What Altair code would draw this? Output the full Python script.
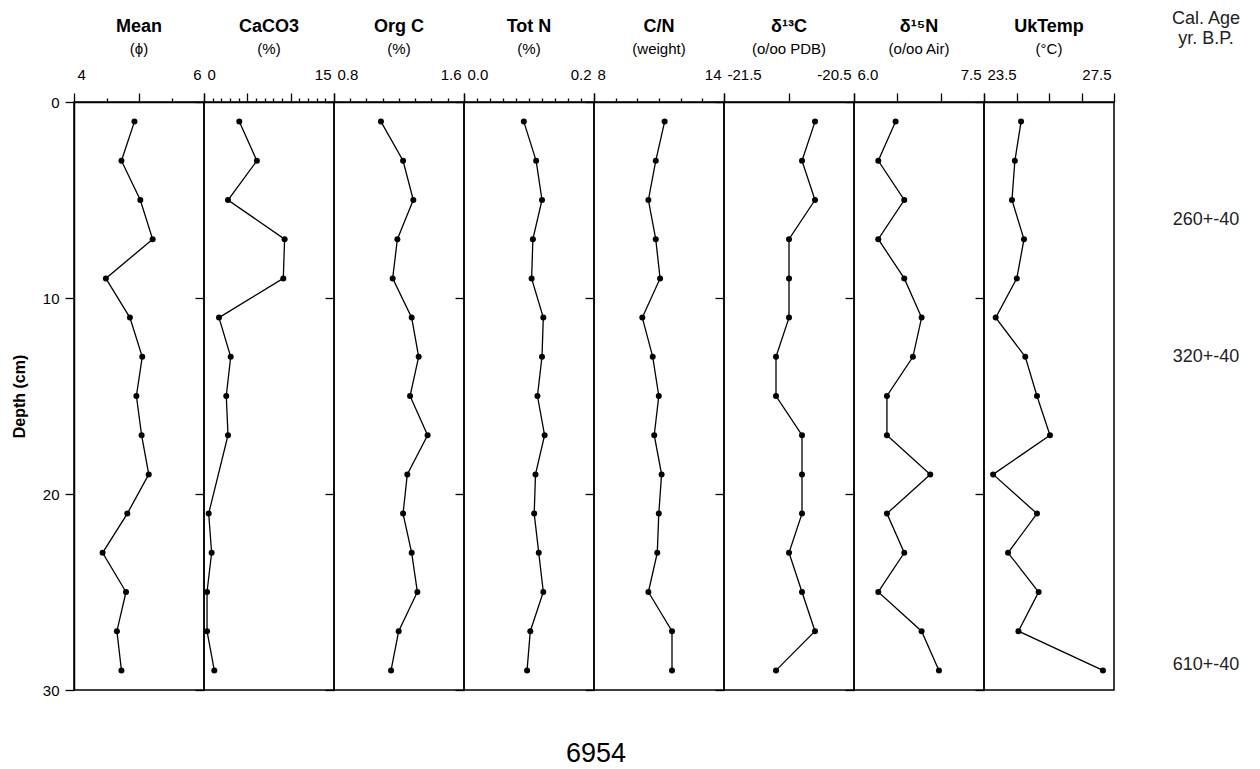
import altair as alt
import pandas as pd

FONT = "Liberation Sans"

# ---------------- data ----------------
depth = [1, 3, 5, 7, 9, 11, 13, 15, 17, 19, 21, 23, 25, 27, 29]

mean_phi = [4.93, 4.73, 5.02, 5.21, 4.49, 4.86, 5.05, 4.96, 5.04, 5.15, 4.82, 4.44, 4.80, 4.66, 4.73]
caco3 = [4.07, 6.1, 2.77, 9.3, 9.15, 1.73, 3.08, 2.57, 2.77, None, 0.54, 0.88, 0.35, 0.35, 1.19]
org_c = [1.089, 1.225, 1.288, 1.19, 1.161, 1.278, 1.321, 1.268, 1.376, 1.251, 1.225, 1.278, 1.313, 1.198, 1.151]
tot_n = [0.092, 0.111, 0.120, 0.106, 0.104, 0.122, 0.120, 0.113, 0.124, 0.110, 0.108, 0.115, 0.122, 0.102, 0.097]
c_n = [11.26, 10.85, 10.51, 10.85, 11.05, 10.23, 10.71, 10.99, 10.78, 11.12, 10.99, 10.92, 10.51, 11.6, 11.6]
d13c = [-20.8, -20.9, -20.8, -21.0, -21.0, -21.0, -21.1, -21.1, -20.9, -20.9, -20.9, -21.0, -20.9, -20.8, -21.1]
d15n = [6.48, 6.28, 6.58, 6.28, 6.58, 6.78, 6.68, 6.38, 6.38, 6.88, 6.38, 6.58, 6.28, 6.78, 6.98]
uk_temp = [24.64, 24.45, 24.36, 24.73, 24.51, 23.86, 24.77, 25.13, 25.53, 23.78, 25.13, 24.24, 25.18, 24.56, 27.16]

titles = ["Mean", "CaCO3", "Org C", "Tot N", "C/N", "δ¹³C", "δ¹⁵N", "UkTemp"]
subtitles = ["(ϕ)", "(%)", "(%)", "(%)", "(weight)", "(o/oo PDB)", "(o/oo Air)", "(°C)"]
series = [mean_phi, caco3, org_c, tot_n, c_n, d13c, d15n, uk_temp]

domains = [[4, 6], [0, 15], [0.8, 1.6], [0.0, 0.2], [8, 14], [-21.5, -20.5], [6.0, 7.5], [23.5, 27.5]]
tick_values = [
    [4, 4.5, 5, 5.5, 6],
    [0, 1, 2, 3, 4, 5, 6, 7, 8, 9, 10, 11, 12, 13, 14, 15],
    [0.8, 0.9, 1.0, 1.1, 1.2, 1.3, 1.4, 1.5, 1.6],
    [0.0, 0.02, 0.04, 0.06, 0.08, 0.1, 0.12, 0.14, 0.16, 0.18, 0.2],
    [8, 9, 10, 11, 12, 13, 14],
    [-21.5, -21.0, -20.5],
    [6.0, 6.5, 7.0, 7.5],
    [23.5, 24.5, 25.5, 26.5, 27.5],
]
major_ticks = [[5], [5, 10], [], [], [], [-21.0], [6.5, 7.0], [24.5, 25.5, 26.5]]
end_labels = [["4", "6"], ["0", "15"], ["0.8", "1.6"], ["0.0", "0.2"], ["8", "14"],
              ["-21.5", "-20.5"], ["6.0", "7.5"], ["23.5", "27.5"]]

depth_ticks = [0, 10, 20, 30]

age_depth = [6, 13, 28.7]
age_labels = ["260+-40", "320+-40", "610+-40"]

PW, PH = 130, 588
yscale = alt.Scale(domain=[0, 30], reverse=True, nice=False, zero=False)


def panel(i):
    df = pd.DataFrame({"depth": depth, "value": series[i]}).dropna()
    lo, hi = domains[i]
    big = [lo, hi] + major_ticks[i]
    test = " || ".join(f"datum.value == {v}" for v in big)
    lab = (f"datum.value == {lo} ? '{end_labels[i][0]}' : "
           f"(datum.value == {hi} ? '{end_labels[i][1]}' : '')")
    xaxis = alt.Axis(
        orient="top", values=tick_values[i], labelExpr=lab, labelFlush=True,
        labelFlushOffset=-3, tickSize={"condition": {"test": test, "value": 9}, "value": 4},
        title=None, grid=False, labelPadding=11, labelFontSize=15, labelFont=FONT,
        labelColor="black", domainColor="black", domainWidth=1.5, tickColor="black",
        tickWidth=1.3,
    )
    if i == 0:
        yaxis = alt.Axis(values=depth_ticks, title="Depth (cm)", titleFontSize=16,
                         titleFontWeight="bold", titleFont=FONT, titleColor="black",
                         titlePadding=15, labelFontSize=15, labelFont=FONT, labelColor="black",
                         tickSize=9, labelPadding=6, domainColor="black", domainWidth=1.5,
                         tickColor="black", tickWidth=1.3, grid=False)
    else:
        yaxis = alt.Axis(values=depth_ticks, title=None, labels=False, domain=False,
                         tickSize=9, tickColor="black", tickWidth=1.3, grid=False)
    base = alt.Chart(df).encode(
        x=alt.X("value:Q", scale=alt.Scale(domain=[lo, hi], nice=False, zero=False), axis=xaxis),
        y=alt.Y("depth:Q", scale=yscale, axis=yaxis),
        order=alt.Order("depth:Q"),
    )
    line = base.mark_line(color="black", strokeWidth=1.3)
    pts = base.mark_circle(color="black", size=36, opacity=1)
    return alt.layer(line, pts).properties(
        width=PW, height=PH,
        title=alt.TitleParams(
            text=titles[i], subtitle=subtitles[i], fontSize=18, fontWeight="bold", font=FONT,
            color="black", subtitleFontSize=15, subtitleFont=FONT, subtitleColor="black",
            subtitleFontWeight="normal", subtitlePadding=6, offset=10, anchor="middle",
            frame="group",
        ),
    )


panels = [panel(i) for i in range(8)]

inner = alt.hconcat(*panels, spacing=0, bounds="flush").properties(
    title=alt.TitleParams("6954", orient="bottom", fontSize=27, fontWeight="normal",
                          font=FONT, color="black", offset=42, anchor="middle", dx=33)
)

age_df = pd.DataFrame({"depth": age_depth, "label": age_labels})
age = alt.Chart(age_df).mark_text(fontSize=18, font=FONT, color="#222").encode(
    x=alt.value(35),
    y=alt.Y("depth:Q", scale=yscale, axis=None),
    text="label:N",
).properties(
    width=70, height=PH, view=alt.ViewBackground(strokeOpacity=0),
    title=alt.TitleParams(["Cal. Age", "yr. B.P."], fontSize=18, fontWeight="normal",
                          font=FONT, color="#222", lineHeight=20, offset=54, anchor="middle",
                          frame="group"),
)

chart = alt.hconcat(inner, age, spacing=55).properties(
    padding={"left": 2, "top": 2, "right": 0, "bottom": 5}
).configure_view(stroke="black", strokeWidth=1.5)

chart.save("out.html", embed_options={"renderer": "svg", "actions": False})
